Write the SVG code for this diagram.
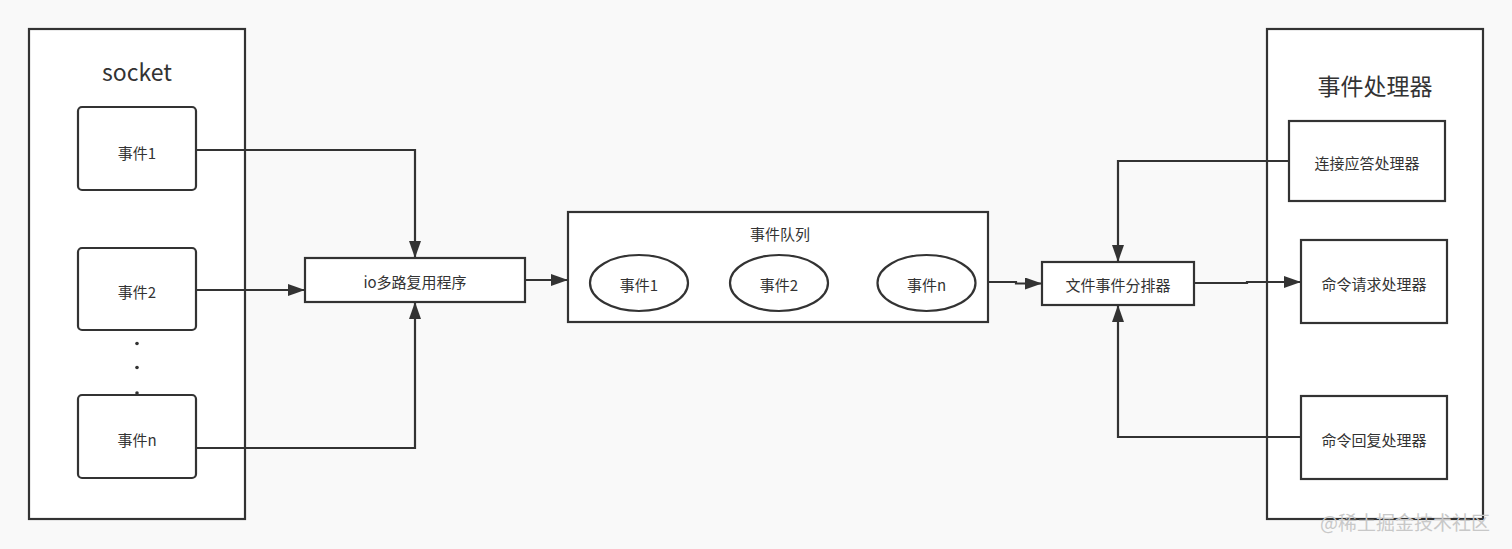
<svg xmlns="http://www.w3.org/2000/svg" width="1512" height="549" viewBox="0 0 1512 549">
<style>
text{font-family:"Noto Sans CJK SC","Noto Sans",sans-serif;fill:#333;text-anchor:middle;dominant-baseline:central}
.box{fill:#fff;stroke:#333;stroke-width:2.2}
.lbl{font-size:15px}
.ttl{font-size:23px}
.edge{fill:none;stroke:#333;stroke-width:2.2}
</style>
<defs>
<marker id="arr" viewBox="0 0 17 12" refX="17" refY="6" markerWidth="17" markerHeight="12" markerUnits="userSpaceOnUse" orient="auto">
<path d="M0,0 L17,6 L0,12 Z" fill="#333"/>
</marker>
</defs>
<rect width="1512" height="549" fill="#f9f9f9"/>
<g id="socket">
<rect class="box" x="29" y="29" width="216" height="490"/>
<text class="ttl" x="137" y="71">socket</text>
</g>
<g id="ev1"><rect class="box" x="78" y="107" width="118" height="83" rx="4"/><text class="lbl" x="137" y="152">事件1</text></g>
<g id="ev2"><rect class="box" x="78" y="248" width="118" height="82" rx="4"/><text class="lbl" x="137" y="291">事件2</text></g>
<g id="dots" fill="#333"><circle cx="137" cy="343.5" r="1.8"/><circle cx="137" cy="367.5" r="1.8"/><circle cx="137" cy="393" r="1.8"/></g>
<g id="evn"><rect class="box" x="78" y="395" width="118" height="83" rx="4"/><text class="lbl" x="137" y="439">事件n</text></g>
<g id="io"><rect class="box" x="305" y="258" width="220" height="44"/><text class="lbl" x="415" y="281">io多路复用程序</text></g>
<g id="queue">
<rect class="box" x="568" y="212" width="420" height="110"/>
<text class="lbl" x="780" y="233">事件队列</text>
</g>
<g id="q1"><ellipse class="box" cx="639" cy="283" rx="49" ry="28"/><text class="lbl" x="639" y="284">事件1</text></g>
<g id="q2"><ellipse class="box" cx="779" cy="283" rx="49" ry="28"/><text class="lbl" x="779" y="284">事件2</text></g>
<g id="qn"><ellipse class="box" cx="926.5" cy="283" rx="49" ry="28"/><text class="lbl" x="926.5" y="284">事件n</text></g>
<g id="dispatcher"><rect class="box" x="1042" y="262" width="152" height="43"/><text class="lbl" x="1118" y="284">文件事件分排器</text></g>
<g id="handlers">
<rect class="box" x="1267" y="29" width="216" height="490"/>
<text class="ttl" x="1375" y="85">事件处理器</text>
</g>
<g id="h1"><rect class="box" x="1289" y="121" width="156" height="80"/><text class="lbl" x="1367" y="162">连接应答处理器</text></g>
<g id="h2"><rect class="box" x="1301" y="240" width="146" height="83"/><text class="lbl" x="1374" y="283">命令请求处理器</text></g>
<g id="h3"><rect class="box" x="1301" y="396" width="146" height="83"/><text class="lbl" x="1374" y="439">命令回复处理器</text></g>
<g id="connectors">
<path class="edge" d="M196,150 H415 V258" marker-end="url(#arr)"/>
<path class="edge" d="M196,290 H305" marker-end="url(#arr)"/>
<path class="edge" d="M196,448 H415 V302" marker-end="url(#arr)"/>
<path class="edge" d="M525,280 H568" marker-end="url(#arr)"/>
<path class="edge" d="M989,282 H1016 V283.5 H1042" marker-end="url(#arr)"/>
<path class="edge" d="M1289,161 H1118 V262" marker-end="url(#arr)"/>
<path class="edge" d="M1301,437 H1118 V305" marker-end="url(#arr)"/>
<path class="edge" d="M1194,283 H1247 V282 H1301" marker-end="url(#arr)"/>
</g>
<text x="1405" y="521" style="font-size:19px;fill:#c8c8c8">@稀土掘金技术社区</text>
</svg>
